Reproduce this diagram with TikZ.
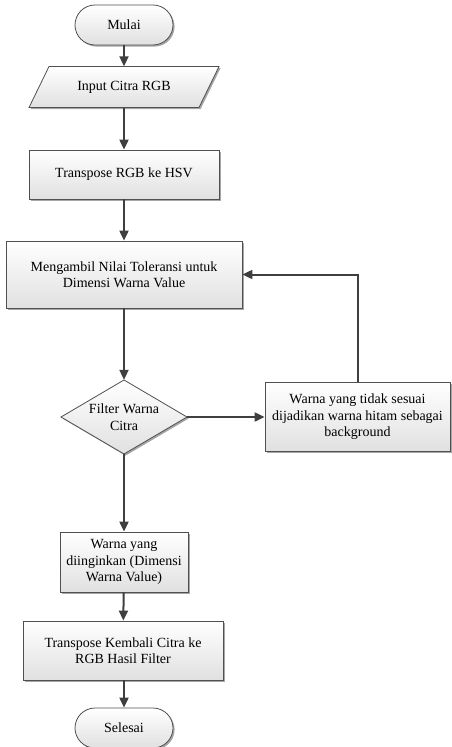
\documentclass[tikz,border=0pt]{standalone}
\usepackage{fontspec}
\setmainfont{Liberation Serif}
\usetikzlibrary{arrows.meta,shadows}
\definecolor{boxline}{HTML}{505050}
\definecolor{lineC}{HTML}{3F3F3F}
\tikzset{
  fillstyle/.style={draw=boxline, line width=0.8pt, top color=white, bottom color=black!12,
    drop shadow={shadow xshift=1.6pt, shadow yshift=-1.6pt, fill=black, opacity=0.35}},
  txt/.style={inner sep=0pt, align=center, font=\fontsize{14}{16.5}\selectfont},
  boxnode/.style={fillstyle, txt},
  flow/.style={draw=lineC, line width=2pt, -{Triangle[length=10pt,width=9pt]}},
}
\begin{document}
\begin{tikzpicture}[x=1pt,y=-1pt]
\useasboundingbox (0,0) rectangle (451,747);
% start
\node[boxnode, rounded corners=20pt, minimum width=98pt, minimum height=40pt] (start) at (124,25) {Mulai};
% input parallelogram
\path[fillstyle] (49,66.5) -- (219,66.5) -- (199,107.5) -- (29,107.5) -- cycle;
\node[txt, minimum width=190pt, minimum height=41pt] (in) at (124,87) {Input Citra RGB};
% transpose
\node[boxnode, minimum width=190pt, minimum height=49pt] (hsv) at (124,174.5) {Transpose RGB ke HSV};
% mengambil
\node[boxnode, minimum width=236pt, minimum height=67pt] (m) at (124,274.5) {Mengambil Nilai Toleransi untuk\\Dimensi Warna Value};
% diamond
\path[fillstyle] (124,380) -- (187,417) -- (124,454) -- (61,417) -- cycle;
\node[txt, minimum width=126pt, minimum height=74pt] (f) at (124,417) {Filter Warna\\Citra};
% right box
\node[boxnode, minimum width=185pt, minimum height=69pt] (w) at (357.5,417) {Warna yang tidak sesuai\\dijadikan warna hitam sebagai\\background};
% desired
\node[boxnode, minimum width=128pt, minimum height=60pt] (d) at (124,562) {Warna yang\\diinginkan (Dimensi\\Warna Value)};
% transpose back
\node[boxnode, minimum width=200pt, minimum height=59pt] (k) at (123,650.5) {Transpose Kembali Citra ke\\RGB Hasil Filter};
% end
\node[boxnode, rounded corners=20pt, minimum width=98pt, minimum height=40pt] (end) at (124,728) {Selesai};
% connectors
\draw[flow] (start) -- (in);
\draw[flow] (in) -- (hsv);
\draw[flow] (hsv) -- (m);
\draw[flow] (m) -- (f.north);
\draw[flow] (f.east) -- (w.west);
\draw[flow] (w.north) |- (m.east);
\draw[flow] (f.south) -- (d.north);
\draw[flow] (d) -- (k);
\draw[flow] (k.south -| end.north) -- (end.north);
\end{tikzpicture}
\end{document}
